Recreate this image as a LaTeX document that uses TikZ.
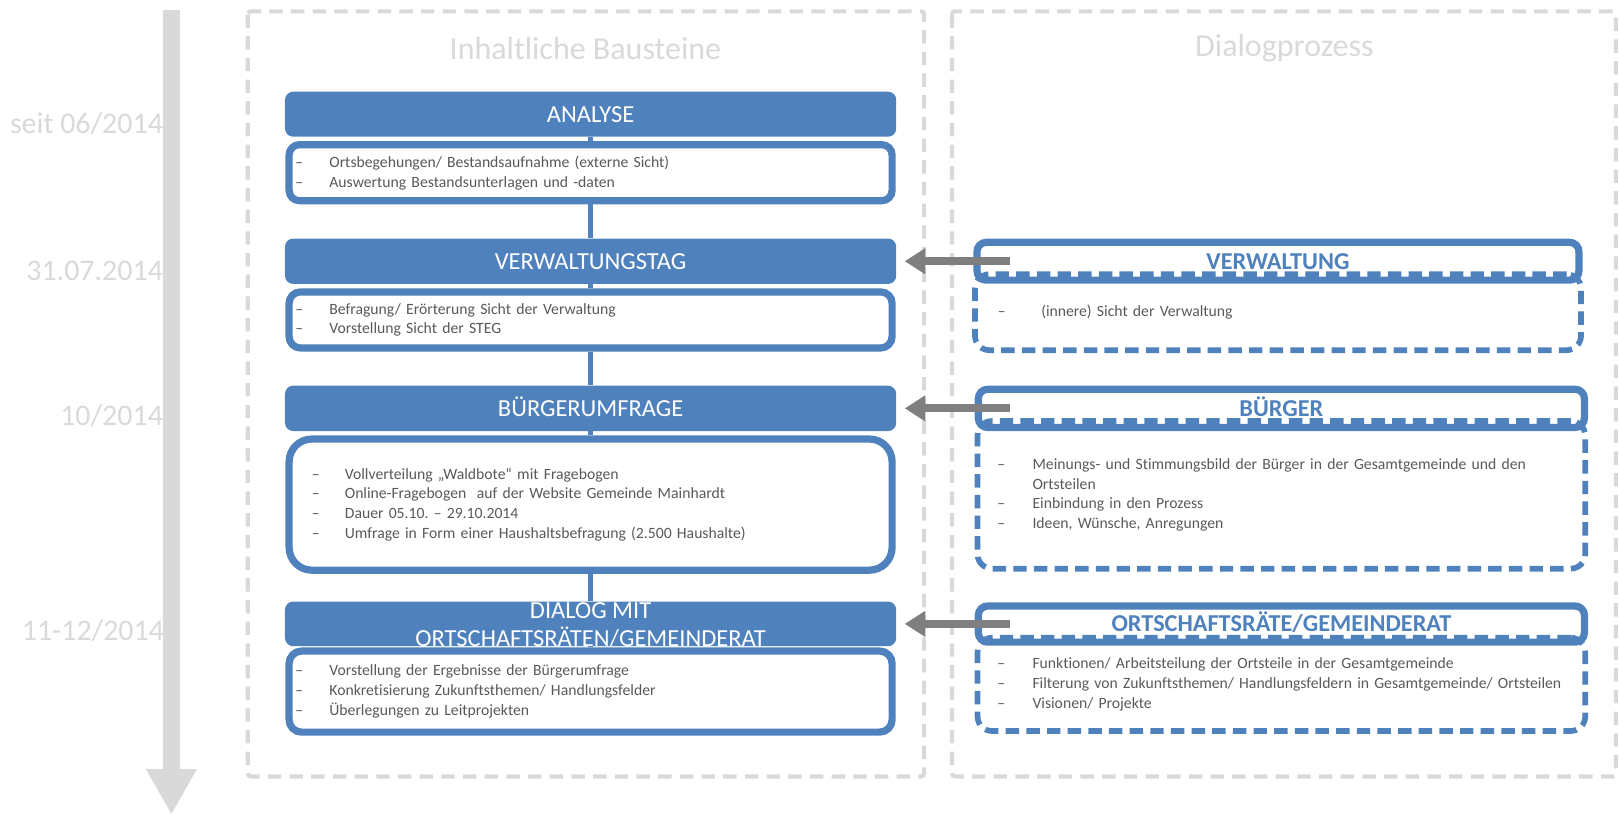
\documentclass[tikz,border=0pt]{standalone}
\usepackage{fontspec}
\setmainfont{Carlito}[Ligatures=CommonOff]
\usetikzlibrary{positioning,arrows.meta}
\definecolor{stegblue}{HTML}{4F81BD}
\definecolor{lightgrey}{HTML}{D9D9D9}
\definecolor{textgrey}{HTML}{595959}
\definecolor{arrowgrey}{HTML}{7F7F7F}
\newcommand{\dashitem}[2][33pt]{\makebox[#1][l]{–}\mbox{#2}}
\frenchspacing

\begin{document}
\begin{tikzpicture}[x=1pt,y=-1pt,node distance=4pt,
    capline/.style={text height=15.3pt,text depth=0pt},
    phase/.style={fill=stegblue,rounded corners=8pt,minimum width=592pt,text=white,capline,
      font=\fontsize{23.7}{26.5}\selectfont,inner sep=0pt},
    phasebox/.style={draw=stegblue,line width=7pt,fill=white,rounded corners=11pt,text=textgrey,
      font=\fontsize{15.2}{19.3}\selectfont,align=left,inner ysep=2pt,inner xsep=6pt,text width=572pt},
    dialoghead/.style={draw=stegblue,line width=7pt,rounded corners=9pt,text=stegblue,capline,
      font=\bfseries\fontsize{23.5}{28}\selectfont,inner sep=0pt,minimum width=587pt},
    dialogbox/.style={draw=stegblue,line width=5.5pt,dash pattern=on 13pt off 7pt,rounded corners=14pt,
      text=textgrey,font=\fontsize{15.2}{19}\selectfont,align=left,inner ysep=2pt,inner xsep=19.25pt,text width=550pt},
    datelabel/.style={text=lightgrey,font=\fontsize{29}{33}\selectfont,anchor=east,inner sep=0pt},
    columntitle/.style={text=lightgrey,font=\fontsize{31}{35}\selectfont,inner sep=0pt},
    columnframe/.style={draw=lightgrey,line width=4pt,dash pattern=on 13pt off 8pt,rounded corners=3pt},
    link/.style={draw=stegblue,line width=5pt},
    feed/.style={draw=arrowgrey,line width=7.5pt,-{Triangle[length=20pt,width=24pt]},shorten >=8pt}
  ]
  \useasboundingbox (0,0) rectangle (1568,789);

  % timeline
  \coordinate (tltop) at (166,10);
  \coordinate (tlend) at (166,789);
  \draw[draw=lightgrey,line width=16pt,-{Triangle[length=44pt,width=46pt]}] (tltop) -- (tlend);
  \node[datelabel] (d1) at (158,120) {seit 06/2014};
  \node[datelabel] (d2) at (158,262) {31.07.2014};
  \node[datelabel] (d3) at (158,403) {10/2014};
  \node[datelabel] (d4) at (159,611) {11-12/2014};

  % columns
  \draw[columnframe] (240,11) rectangle (895,752);
  \draw[columnframe] (922,11) rectangle (1565,752);
  \node[columntitle] (inhalt) at (567,47) {Inhaltliche Bausteine};
  \node[columntitle] (prozess) at (1244,47) {Dialogprozess};

  % left column
  \node[phase,minimum height=43.6pt] (ana) at (572,110.6) {ANALYSE};
  \node[phasebox,below=of ana,minimum height=54.3pt,rounded corners=10pt] (anabox)
    {\dashitem{Ortsbegehungen/ Bestandsaufnahme (externe Sicht)}\\
     \dashitem{Auswertung Bestandsunterlagen und -daten}};
  \node[phase,minimum height=44pt] (vwt) at (572,253) {VERWALTUNGSTAG};
  \node[phasebox,below=of vwt,minimum height=54.3pt] (vwtbox)
    {\dashitem{Befragung/ Erörterung Sicht der Verwaltung}\\
     \dashitem{Vorstellung Sicht der STEG}};
  \node[phase,minimum height=44pt] (bu) at (572,395.5) {BÜRGERUMFRAGE};
  \node[phasebox,below=of bu,minimum height=127pt,rounded corners=22pt,inner xsep=22pt,text width=540pt] (bubox)
    {\dashitem[32pt]{Vollverteilung „Waldbote“ mit Fragebogen}\\
     \dashitem[32pt]{Online-Fragebogen\ \ auf der Website Gemeinde Mainhardt}\\
     \dashitem[32pt]{Dauer 05.10. – 29.10.2014}\\
     \dashitem[32pt]{Umfrage in Form einer Haushaltsbefragung (2.500 Haushalte)}};
  % box first, so the header text may run over its border
  \node[phasebox,minimum height=78.5pt,rounded corners=12pt] (dlgbox) at (572,669.8)
    {\dashitem{Vorstellung der Ergebnisse der Bürgerumfrage}\\
     \dashitem{Konkretisierung Zukunftsthemen/ Handlungsfelder}\\
     \dashitem{Überlegungen zu Leitprojekten}};
  \node[phase,above=1pt of dlgbox,minimum height=43.3pt,text height=0pt] (dlg)
    {\smash{\raisebox{5pt}{\begin{tabular}[t]{@{}c@{}}DIALOG MIT\\ORTSCHAFTSRÄTEN/GEMEINDERAT\end{tabular}}}};

  \foreach \from/\to in {ana/anabox,anabox/vwt,vwt/vwtbox,vwtbox/bu,bu/bubox,bubox/dlg,dlg/dlgbox}
    \draw[link] (\from) -- (\to);

  % right column
  \node[dialoghead,minimum width=583pt,minimum height=36.6pt] (vwtitle) at (1237.7,253) {VERWALTUNG};
  \node[dialogbox,below=-12pt of vwtitle,minimum height=73.6pt,inner xsep=22.25pt,text width=542.5pt] (vwtext)
    {\dashitem[42pt]{(innere) Sicht der Verwaltung}};
  \node[dialoghead,minimum height=37pt] (butitle) at (1241,395.5) {BÜRGER};
  \node[dialogbox,below=-12.5pt of butitle,minimum height=143pt] (butext)
    {\dashitem[34pt]{Meinungs- und Stimmungsbild der Bürger in der Gesamtgemeinde und den}\\
     \hspace*{34pt}Ortsteilen\\
     \dashitem[34pt]{Einbindung in den Prozess}\\
     \dashitem[34pt]{Ideen, Wünsche, Anregungen}};
  \node[dialoghead,minimum height=35pt] (ortitle) at (1241,604.4) {ORTSCHAFTSRÄTE/GEMEINDERAT};
  \node[dialogbox,below=-10.5pt of ortitle,minimum height=90.3pt] (ortext)
    {\dashitem[34pt]{Funktionen/ Arbeitsteilung der Ortsteile in der Gesamtgemeinde}\\
     \dashitem[34pt]{Filterung von Zukunftsthemen/ Handlungsfeldern in Gesamtgemeinde/ Ortsteilen}\\
     \dashitem[34pt]{Visionen/ Projekte}};

  \draw[feed] ([xshift=35pt]vwtitle.west) -- (vwt.east);
  \draw[feed] ([xshift=34pt]butitle.west) -- (bu.east);
  \draw[feed] ([xshift=34pt]ortitle.west) -- (dlg.east);
\end{tikzpicture}
\end{document}
